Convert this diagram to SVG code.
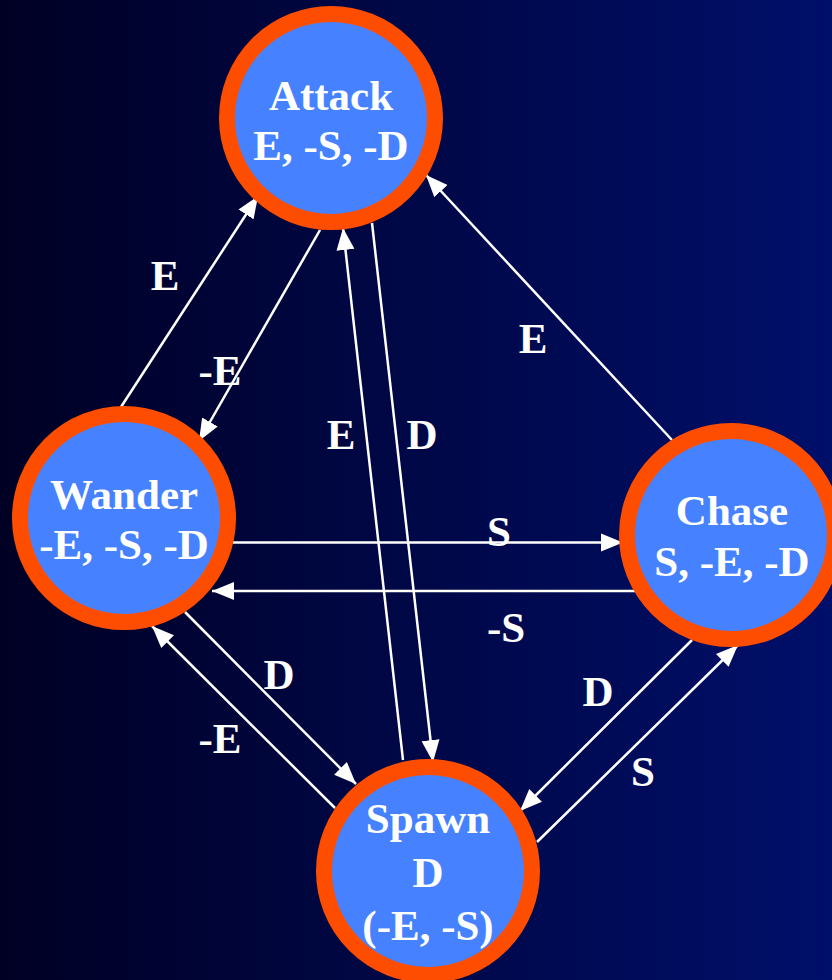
<svg xmlns="http://www.w3.org/2000/svg" width="832" height="980" viewBox="0 0 832 980">
<defs>
<linearGradient id="bg" x1="0" y1="0" x2="1" y2="0">
<stop offset="0" stop-color="#000024"/>
<stop offset="1" stop-color="#000F6A"/>
</linearGradient>
<marker id="ah" markerUnits="userSpaceOnUse" markerWidth="23" markerHeight="19" refX="22" refY="9" orient="auto" viewBox="0 0 23 18">
<path d="M0,0 L22,9 L0,18 z" fill="#FFFFFF"/>
</marker>
<style>
.node circle{fill:#4682FF;stroke:#FF4D00;stroke-width:16}
.node text,.lbl{font-family:"Liberation Serif","Times New Roman",serif;font-weight:bold;font-size:43px;fill:#FFFFFF;text-anchor:middle}
.edge{stroke:#FFFFFF;stroke-width:2.5;fill:none;marker-end:url(#ah)}
</style>
</defs>
<rect x="0" y="0" width="832" height="980" fill="url(#bg)"/>
<g id="connectors">
<line class="edge" x1="121" y1="407" x2="258" y2="196"/>
<line class="edge" x1="320" y1="230" x2="199" y2="441"/>
<line class="edge" x1="403" y1="760" x2="343" y2="228"/>
<line class="edge" x1="372" y1="223" x2="433" y2="762"/>
<line class="edge" x1="672" y1="440" x2="426" y2="175"/>
<line class="edge" x1="233" y1="542.5" x2="623" y2="542.5"/>
<line class="edge" x1="638" y1="591" x2="212" y2="591"/>
<line class="edge" x1="185" y1="612" x2="356" y2="784"/>
<line class="edge" x1="335" y1="808" x2="152" y2="626"/>
<line class="edge" x1="692" y1="640" x2="520" y2="811"/>
<line class="edge" x1="537" y1="842" x2="738" y2="645"/>
<text class="lbl" x="165" y="290">E</text>
<text class="lbl" x="220" y="385">-E</text>
<text class="lbl" x="341" y="449">E</text>
<text class="lbl" x="422" y="449">D</text>
<text class="lbl" x="533" y="353">E</text>
<text class="lbl" x="499" y="546">S</text>
<text class="lbl" x="506" y="642">-S</text>
<text class="lbl" x="279" y="689">D</text>
<text class="lbl" x="220" y="753">-E</text>
<text class="lbl" x="598" y="706">D</text>
<text class="lbl" x="643" y="786">S</text>
</g>
<g id="attack" class="node">
<circle cx="331" cy="118" r="104"/>
<text x="331" y="110">Attack</text>
<text x="331" y="160">E, -S, -D</text>
</g>
<g id="wander" class="node">
<circle cx="124" cy="518" r="104"/>
<text x="124" y="509">Wander</text>
<text x="124" y="559">-E, -S, -D</text>
</g>
<g id="chase" class="node">
<circle cx="731" cy="535" r="104"/>
<text x="732" y="525">Chase</text>
<text x="732" y="576">S, -E, -D</text>
</g>
<g id="spawn" class="node">
<circle cx="428" cy="871" r="104"/>
<text x="428" y="833">Spawn</text>
<text x="428" y="887">D</text>
<text x="428" y="940">(-E, -S)</text>
</g>
</svg>
